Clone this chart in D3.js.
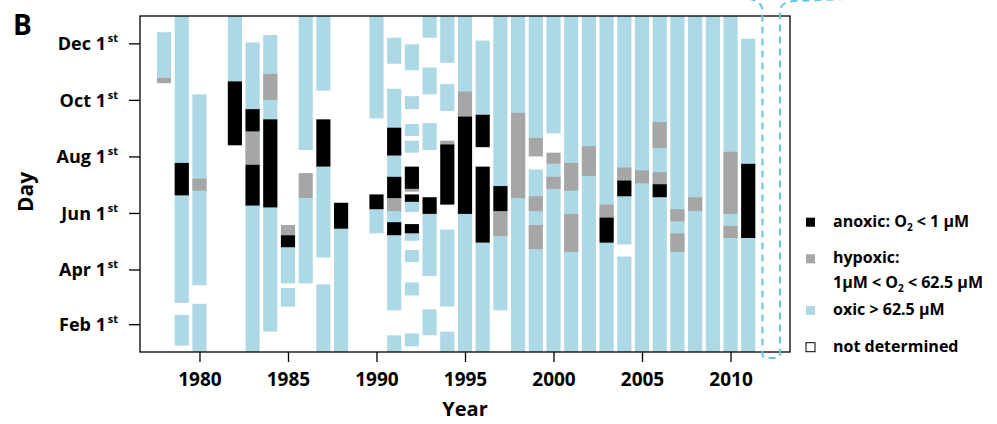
<!DOCTYPE html>
<html><head><meta charset="utf-8">
<script src="https://cdn.jsdelivr.net/npm/d3@7"></script>
<style>
body{margin:0;background:#fff;}
svg text{font-family:"Open Sans",sans-serif;font-weight:700;fill:#000;}
</style>
</head><body>
<svg id="chart" width="997" height="424"></svg>
<script>
// ---- data ----
const years = [1978,1979,1980,1981,1982,1983,1984,1985,1986,1987,1988,1989,1990,1991,1992,1993,1994,1995,1996,1997,1998,1999,2000,2001,2002,2003,2004,2005,2006,2007,2008,2009,2010,2011,2012];
const notDeterminedYears = [2012];
const xTicks = [1980,1985,1990,1995,2000,2005,2010];
const yTickDays = [32, 91, 152, 213, 274, 335];
const yTickLabels = ["Feb 1","Apr 1","Jun 1","Aug 1","Oct 1","Dec 1"];
// [year, fromDay, toDay]
const oxic = [
 [1978,298,347],
 [1979,55,365],[1979,9,42],
 [1980,74,280],[1980,1,54],
 [1982,294,365],
 [1983,1,336],
 [1984,24,344],
 [1985,76,115],[1985,51,71],
 [1986,220,365],[1986,76,168],
 [1987,284,365],[1987,104,202],[1987,1,75],
 [1988,1,135],
 [1990,254,365],[1990,130,156],
 [1991,313,341],[1991,47,286],[1991,1,20],
 [1992,306,334],[1992,264,278],[1992,235,248],[1992,217,230],[1992,153,164],[1992,122,130],[1992,99,112],[1992,63,77],[1992,8,22],
 [1993,341,365],[1993,280,309],[1993,220,249],[1993,84,151],[1993,20,48],
 [1994,314,365],[1994,262,291],[1994,51,134],[1994,1,24],
 [1995,1,365],
 [1996,258,338],[1996,1,120],
 [1997,47,365],
 [1998,1,365],
 [1999,233,365],[1999,1,199],
 [2000,238,365],[2000,1,205],
 [2001,1,365],
 [2002,1,365],
 [2003,1,365],
 [2004,118,365],[2004,1,105],
 [2005,1,365],
 [2006,1,365],
 [2007,1,365],
 [2008,1,365],
 [2009,1,365],
 [2010,1,365],
 [2011,1,340]
];
const hypoxic = [
 [1978,292,298],
 [1980,176,189],
 [1983,204,240],
 [1984,274,302],
 [1985,128,139],
 [1986,168,195],
 [1991,154,168],
 [1992,175,178],
 [1994,226,230],
 [1995,256,283],
 [1997,127,154],
 [1998,168,260],
 [1999,213,233],[1999,154,170],[1999,113,139],
 [2000,205,217],[2000,178,191],
 [2001,176,206],[2001,110,151],
 [2002,192,224],
 [2003,147,161],
 [2004,187,201],
 [2005,184,198],
 [2006,222,250],[2006,183,196],
 [2007,143,156],[2007,110,130],
 [2008,154,169],
 [2010,151,218],[2010,125,138]
];
const anoxic = [
 [1979,171,206],
 [1982,225,294],
 [1983,240,264],[1983,160,204],
 [1984,158,253],
 [1985,115,128],
 [1987,202,253],
 [1988,135,163],
 [1990,156,172],
 [1991,214,244],[1991,168,191],[1991,128,142],
 [1992,178,202],[1992,164,172],[1992,130,140],
 [1993,151,169],
 [1994,161,226],
 [1995,151,256],
 [1996,223,258],[1996,120,202],
 [1997,154,181],
 [2003,120,147],
 [2004,170,187],
 [2006,169,183],
 [2011,125,205]
];
const legendItems = [
 {key:"anoxic", lines:[["anoxic: O","2"," < 1 µM"]]},
 {key:"hypoxic", lines:[["hypoxic:"],["1µM < O","2","  < 62.5 µM"]]},
 {key:"oxic", lines:[["oxic > 62.5 µM"]]},
 {key:"nd", lines:[["not determined"]]}
];
const colors = {anoxic:"#000000", hypoxic:"#a6a6a6", oxic:"#add8e6", nd:"#ffffff"};

// ---- layout ----
const svg = d3.select("#chart");
const W = 997, H = 424;
const m = {left:140, right:207, top:16, bottom:72};
const pw = W - m.left - m.right, ph = H - m.top - m.bottom;
const ext = d3.extent(years), pad = (ext[1]-ext[0])*0.04;
const x = d3.scaleLinear().domain([ext[0]-pad, ext[1]+pad]).range([m.left, m.left+pw]);
const y = d3.scaleLinear().domain([2, 364.5]).range([m.top+ph, m.top]).clamp(true);
const halfW = 0.4;

function drawSegs(data, color){
  svg.append("g").selectAll("rect").data(data).join("rect")
    .attr("x", d => x(d[0]-halfW))
    .attr("width", d => x(d[0]+halfW) - x(d[0]-halfW))
    .attr("y", d => y(d[2]))
    .attr("height", d => y(d[1]) - y(d[2]))
    .attr("fill", color);
}
drawSegs(oxic, colors.oxic);
drawSegs(hypoxic, colors.hypoxic);
drawSegs(anoxic, colors.anoxic);

// frame
svg.append("rect").attr("x", m.left).attr("y", m.top).attr("width", pw).attr("height", ph)
  .attr("fill","none").attr("stroke","#000").attr("stroke-width",1.3);

// x axis
const xAxis = d3.axisBottom(x).tickValues(xTicks).tickSize(10).tickPadding(11).tickFormat(d3.format("d"));
const gx = svg.append("g").attr("transform", `translate(0,${m.top+ph})`).call(xAxis);
gx.select(".domain").remove();
gx.selectAll("line").attr("stroke","#000").attr("stroke-width",1.3);
gx.selectAll("text").attr("font-size",19).style("font-family","'Open Sans',sans-serif").style("font-weight",700).attr("fill","#000");

// y axis
const yAxis = d3.axisLeft(y).tickValues(yTickDays).tickSize(11).tickPadding(11).tickFormat(() => "");
const gy = svg.append("g").attr("transform", `translate(${m.left},0)`).call(yAxis);
gy.select(".domain").remove();
gy.selectAll("line").attr("stroke","#000").attr("stroke-width",1.3);
gy.selectAll(".tick text").each(function(d,i){
  const t = d3.select(this).attr("font-size",18).attr("fill","#000")
    .style("font-family","'Open Sans',sans-serif").style("font-weight",700).attr("dy","0.36em");
  t.append("tspan").text(yTickLabels[i] + "\u200A");
  t.append("tspan").text("st").attr("font-size",11).attr("dy","-0.75em");
});

// titles
svg.append("text").attr("x",13).attr("y",35).attr("font-size",28).text("B");
svg.append("text").attr("transform",`translate(33,${m.top+ph/2+8}) rotate(-90)`).attr("text-anchor","middle").attr("font-size",21).text("Day");
svg.append("text").attr("x",m.left+pw/2).attr("y",416).attr("text-anchor","middle").attr("font-size",20).text("Year");

// not determined (dashed outline)
notDeterminedYears.forEach(yr => {
  const L = x(yr) - 3.5, R = x(yr) + 14, B = y.range()[0] + 6, r = 4;
  const p = d3.path();
  p.moveTo(L - 14, -1);
  p.quadraticCurveTo(L, 0, L, 12);
  p.lineTo(L, B - r);
  p.quadraticCurveTo(L, B, L + r, B);
  p.lineTo(R - r, B);
  p.quadraticCurveTo(R, B, R, B - r);
  p.lineTo(R, 12);
  p.quadraticCurveTo(R, 2, R + 14, 1);
  p.lineTo(900, -3);
  svg.append("path").attr("d", p.toString()).attr("fill","none")
    .attr("stroke","#63c8de").attr("stroke-width",2).attr("stroke-dasharray","7,5");
});

// legend
const lg = svg.append("g");
const rowY = [226.7, 263.3, 315, 351.7];
const lineGap = 25;
legendItems.forEach((it, i) => {
  const by = rowY[i];
  lg.append("rect").attr("x",806).attr("y",by-9).attr("width",9).attr("height",9)
    .attr("fill",colors[it.key]).attr("stroke", it.key==="nd" ? "#000" : "none").attr("stroke-width",1);
  it.lines.forEach((parts, j) => {
    const t = lg.append("text").attr("x",833).attr("y",by + j*lineGap).attr("font-size",16);
    if (parts.length === 1) { t.text(parts[0]); }
    else {
      t.append("tspan").text(parts[0]);
      t.append("tspan").text(parts[1]).attr("font-size",10).attr("dy",4);
      t.append("tspan").text(parts[2]).attr("dy",-4);
    }
  });
});
</script>
</body></html>
